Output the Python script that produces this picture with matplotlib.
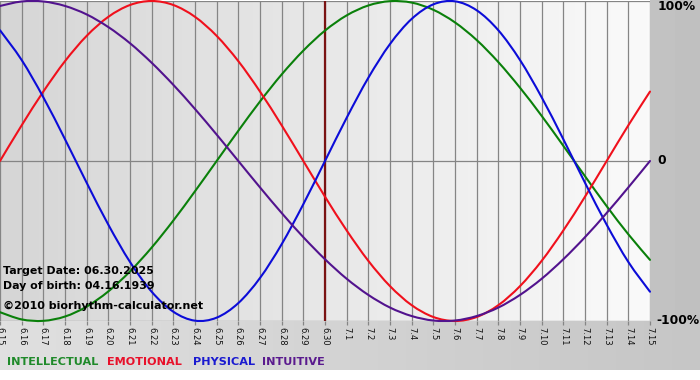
import matplotlib
matplotlib.use("Agg")
import matplotlib.pyplot as plt
import numpy as np
from matplotlib.colors import LinearSegmentedColormap
from matplotlib.path import Path
from matplotlib.patches import PathPatch

# ---- data ----
dates = ["6.15", "6.16", "6.17", "6.18", "6.19", "6.20", "6.21", "6.22", "6.23", "6.24",
         "6.25", "6.26", "6.27", "6.28", "6.29", "6.30", "7.1", "7.2", "7.3", "7.4",
         "7.5", "7.6", "7.7", "7.8", "7.9", "7.10", "7.11", "7.12", "7.13", "7.14", "7.15"]
intellectual = [-0.945, -0.990, -0.999, -0.972, -0.910, -0.815, -0.690, -0.541, -0.372, -0.189,
                0.000, 0.189, 0.372, 0.541, 0.690, 0.815, 0.910, 0.972, 0.999, 0.990,
                0.945, 0.866, 0.756, 0.618, 0.458, 0.282, 0.095, -0.095, -0.282, -0.458, -0.618]
emotional = [0.000, 0.223, 0.434, 0.624, 0.782, 0.901, 0.975, 1.000, 0.975, 0.901,
             0.782, 0.624, 0.434, 0.223, 0.000, -0.223, -0.434, -0.624, -0.782, -0.901,
             -0.975, -1.000, -0.975, -0.901, -0.782, -0.624, -0.434, -0.223, 0.000, 0.223, 0.434]
physical = [0.817, 0.631, 0.398, 0.136, -0.136, -0.398, -0.631, -0.817, -0.942, -0.998,
            -0.979, -0.888, -0.731, -0.520, -0.270, 0.000, 0.270, 0.520, 0.731, 0.888,
            0.979, 0.998, 0.942, 0.817, 0.631, 0.398, 0.136, -0.136, -0.398, -0.631, -0.817]
intuitive = [0.969, 0.997, 0.997, 0.969, 0.916, 0.837, 0.736, 0.614, 0.476, 0.325,
             0.165, 0.000, -0.165, -0.325, -0.476, -0.614, -0.736, -0.837, -0.916, -0.969,
             -0.997, -0.997, -0.969, -0.916, -0.837, -0.736, -0.614, -0.476, -0.325, -0.165, 0.000]
target_index = 15
series_names = ["INTELLECTUAL", "EMOTIONAL", "PHYSICAL", "INTUITIVE"]
series_colors = ["#0a800a", "#f0101c", "#0c0cd8", "#52138e"]
text_colors = ["#1f8a2a", "#e8102a", "#1a1ad0", "#5a1a8e"]


def smooth_path(xs, ys):
    """Catmull-Rom style Bezier path through the data points (drawing only)."""
    pts = np.column_stack([xs, ys]).astype(float)
    ext = np.vstack([pts[0], pts, pts[-1]])
    verts = [pts[0]]
    codes = [Path.MOVETO]
    for i in range(len(pts) - 1):
        p0, p1, p2, p3 = ext[i], ext[i + 1], ext[i + 2], ext[i + 3]
        c1 = p1 + (p2 - p0) / 6.0
        c2 = p2 - (p3 - p1) / 6.0
        verts += [c1, c2, p2]
        codes += [Path.CURVE4] * 3
    return Path(verts, codes)


W, H = 700, 380
fig = plt.figure(figsize=(W / 100, H / 100), dpi=100)
fig.patch.set_facecolor("white")

# background axes in pixel coords (y down)
bg = fig.add_axes([0, 0, 1, 1])
bg.axis("off")
bg.imshow(np.array([[0.0, 1.0]]), cmap=LinearSegmentedColormap.from_list("m", ["#c2c2c2", "#c0c0c0"]),
          extent=[650, 700, 321, 0], aspect="auto", vmin=0, vmax=1)
bg.imshow(np.linspace(0, 1, 100)[None, :], cmap=LinearSegmentedColormap.from_list("b", ["#e0e0e0", "#c6c6c6"]),
          extent=[0, 700, 370, 321], aspect="auto", vmin=0, vmax=1)
bg.set_xlim(0, W)
bg.set_ylim(H, 0)

# main axes
left, right, top, bottom = 0, 650, 1, 321
ax = fig.add_axes([left / W, 1 - bottom / H, (right - left) / W, (bottom - top) / H])
ax.patch.set_alpha(0)
ax.imshow(np.linspace(0, 1, 200)[None, :], cmap=LinearSegmentedColormap.from_list("p", ["#d6d6d6", "#fafafa"]),
          extent=[0, len(dates) - 1, -1, 1], aspect="auto", vmin=0, vmax=1, zorder=0)
ax.set_xlim(0, len(dates) - 1)
ax.set_ylim(-1, 1)
for s in ax.spines.values():
    s.set_visible(False)

x = np.arange(len(dates))
for xi in x:
    ax.axvline(xi, color="#858585", lw=0.9, zorder=1)
for yv in (-1, 0, 1):
    ax.axhline(yv, color="#858585", lw=0.9, zorder=1)
ax.axvline(target_index, color="#7a1212", lw=1.6, zorder=2)

for vals, c in zip([intellectual, emotional, physical, intuitive], series_colors):
    patch = PathPatch(smooth_path(x, vals), facecolor="none", edgecolor=c, lw=1.5,
                      zorder=3, clip_on=False, capstyle="round", joinstyle="round")
    ax.add_patch(patch)

ax.set_xticks(x)
ax.set_xticklabels(dates, rotation=-90, fontsize=6, color="#111111")
ax.tick_params(axis="x", length=3, width=0.9, color="#858585", pad=1)
ax.set_yticks([])

# right-side labels
ax.text(1.012, 0.983, "100%", transform=ax.transAxes, fontsize=8.8, fontweight="bold", va="center", ha="left")
ax.text(1.012, 0.5, "0", transform=ax.transAxes, fontsize=8.8, fontweight="bold", va="center", ha="left")
ax.text(1.01, 0.0, "-100%", transform=ax.transAxes, fontsize=8.8, fontweight="bold", va="center", ha="left")

# info text
fig.text(3 / W, 1 - 271 / H, "Target Date: 06.30.2025", fontsize=7.9, fontweight="bold", va="center", ha="left")
fig.text(3 / W, 1 - 286 / H, "Day of birth: 04.16.1939", fontsize=7.9, fontweight="bold", va="center", ha="left")
fig.text(3 / W, 1 - 306 / H, "\u00a92010 biorhythm-calculator.net", fontsize=8.0, fontweight="bold", va="center", ha="left")

# legend texts
xpos = [7, 107, 193, 262]
for name, c, xp in zip(series_names, text_colors, xpos):
    fig.text(xp / W, 1 - 362 / H, name, fontsize=8.1, fontweight="bold", color=c, va="center", ha="left")

fig.savefig("out.png", dpi=100)
